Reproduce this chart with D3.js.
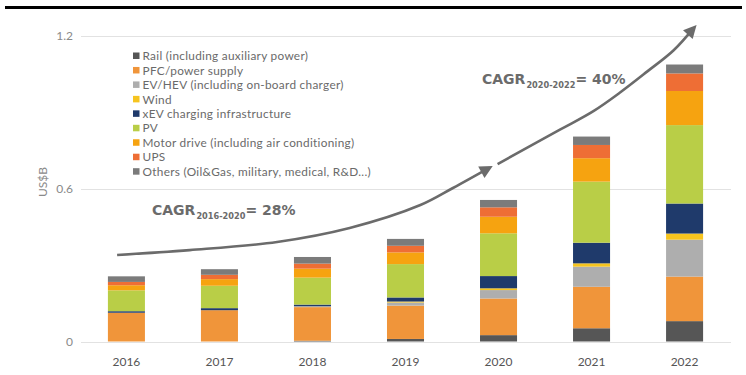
<!DOCTYPE html>
<html>
<head>
<meta charset="utf-8">
<script src="https://cdn.jsdelivr.net/npm/d3@7/dist/d3.min.js"></script>
<style>
  html, body { margin: 0; padding: 0; background: #fff; }
  svg { display: block; }
</style>
</head>
<body>
<svg id="chart" width="746" height="375"></svg>
<script>
// Power-module market by application, US$B
const years = ["2016", "2017", "2018", "2019", "2020", "2021", "2022"];
const seriesNames = [
  "Rail (including auxiliary power)",
  "PFC/power supply",
  "EV/HEV (including on-board charger)",
  "Wind",
  "xEV charging infrastructure",
  "PV",
  "Motor drive (including air conditioning)",
  "UPS",
  "Others (Oil&Gas, military, medical, R&D...)"
];
const rail     = [0.000, 0.000, 0.003, 0.010, 0.025, 0.052, 0.080];
const pfc      = [0.113, 0.123, 0.132, 0.131, 0.144, 0.163, 0.175];
const evhev    = [0.000, 0.000, 0.004, 0.012, 0.033, 0.079, 0.145];
const wind     = [0.000, 0.000, 0.000, 0.004, 0.007, 0.013, 0.024];
const xevCharg = [0.006, 0.008, 0.006, 0.016, 0.048, 0.081, 0.118];
const pv       = [0.082, 0.088, 0.106, 0.131, 0.168, 0.240, 0.308];
const motor    = [0.020, 0.026, 0.035, 0.046, 0.065, 0.092, 0.134];
const ups      = [0.013, 0.017, 0.020, 0.026, 0.037, 0.052, 0.069];
const others   = [0.022, 0.022, 0.026, 0.027, 0.029, 0.033, 0.035];
const yTicks = [0, 0.6, 1.2];
const yTickLabels = ["0", "0.6", "1.2"];

// Growth annotations: [band position, value] along each arrow
const cagrEarly = { label: "CAGR", sub: "2016-2020", rate: "= 28%" };
const cagrLate  = { label: "CAGR", sub: "2020-2022", rate: "= 40%" };
const arrowLower = [[-0.10, 0.340], [0.68, 0.359], [1.62, 0.391], [2.40, 0.446],
                    [3.16, 0.536], [3.51, 0.603], [3.90, 0.682]];
const arrowUpper = [[3.99, 0.697], [4.66, 0.832], [5.02, 0.905], [5.31, 0.979],
                    [5.60, 1.061], [5.88, 1.143], [6.10, 1.232]];

const colors = ["#565656", "#F0953A", "#AEAEAE", "#F6C41F", "#1F3A6B",
                "#B9CE47", "#F6A310", "#EE6E35", "#7B7B7B"];
const columns = [rail, pfc, evhev, wind, xevCharg, pv, motor, ups, others];

const table = years.map((y, i) => {
  const row = { year: y };
  seriesNames.forEach((s, k) => { row[s] = columns[k][i]; });
  return row;
});

const svg = d3.select("#chart");

const x = d3.scaleBand().domain(years).range([80, 731])
  .paddingInner(0.602).paddingOuter(0.3);
const y = d3.scaleLinear().domain([0, 1.2]).range([341.5, 36]);

// top rule
svg.append("rect").attr("x", 5).attr("y", 6).attr("width", 737).attr("height", 3)
  .attr("fill", "#000");

// gridlines
svg.append("g").selectAll("line").data(yTicks).join("line")
  .attr("x1", 81).attr("x2", 731)
  .attr("y1", d => Math.round(y(d)) + 0.5).attr("y2", d => Math.round(y(d)) + 0.5)
  .attr("stroke", "#e2e2e2").attr("stroke-width", 1);

// y tick labels
svg.append("g").selectAll("text").data(yTicks).join("text")
  .attr("x", 73).attr("y", d => y(d)).attr("dy", "0.35em")
  .attr("text-anchor", "end")
  .attr("font-family", "Lato, 'Open Sans', sans-serif").attr("font-size", 12)
  .attr("fill", "#8a8a8a")
  .text((d, i) => yTickLabels[i]);

svg.append("text")
  .attr("transform", "translate(47,182) rotate(-90)")
  .attr("text-anchor", "middle")
  .attr("font-family", "Lato, 'Open Sans', sans-serif").attr("font-size", 12)
  .attr("fill", "#8a8a8a")
  .text("US$B");

// x axis labels
svg.append("g").selectAll("text").data(years).join("text")
  .attr("x", d => x(d) + x.bandwidth() / 2).attr("y", 362)
  .attr("dy", "0.35em").attr("text-anchor", "middle")
  .attr("font-family", "Lato, 'Open Sans', sans-serif").attr("font-size", 12)
  .attr("fill", "#555")
  .text(d => d);

// stacked bars
const stacked = d3.stack().keys(seriesNames)(table);
svg.append("g").selectAll("g").data(stacked).join("g")
  .attr("fill", (d, i) => colors[i])
  .selectAll("rect").data(d => d).join("rect")
  .attr("x", d => x(d.data.year))
  .attr("width", x.bandwidth())
  .attr("y", d => y(d[1]))
  .attr("height", d => Math.max(0, y(d[0]) - y(d[1])));

// legend
const legend = svg.append("g").attr("transform", "translate(133,56)");
const rowH = 14.46;
seriesNames.forEach((s, i) => {
  legend.append("rect").attr("x", 0).attr("y", i * rowH - 3.5)
    .attr("width", 6.5).attr("height", 6.5).attr("fill", colors[i]);
  legend.append("text").attr("x", 9.5).attr("y", i * rowH).attr("dy", "0.35em")
    .attr("font-family", "Lato, 'Open Sans', sans-serif").attr("font-size", 11.8)
    .attr("letter-spacing", 0.3)
    .attr("fill", "#6a6a6a").text(s);
});

// growth arrows
const px = d => x(years[0]) + x.bandwidth() / 2 + d[0] * x.step();
const line = d3.line().x(px).y(d => y(d[1])).curve(d3.curveCatmullRom);

function arrow(points) {
  svg.append("path").attr("d", line(points))
    .attr("fill", "none").attr("stroke", "#6b6b6b").attr("stroke-width", 2.6);
  const a = points[points.length - 2], b = points[points.length - 1];
  const bx = px(b), by = y(b[1]);
  const ang = Math.atan2(by - y(a[1]), bx - px(a));
  const len = 13, half = 6.5;
  const tip = [bx + Math.cos(ang) * 4, by + Math.sin(ang) * 4];
  const base = [tip[0] - Math.cos(ang) * len, tip[1] - Math.sin(ang) * len];
  const p1 = [base[0] + Math.sin(ang) * half, base[1] - Math.cos(ang) * half];
  const p2 = [base[0] - Math.sin(ang) * half, base[1] + Math.cos(ang) * half];
  svg.append("path").attr("d", `M${tip}L${p1}L${p2}Z`).attr("fill", "#6b6b6b");
}
arrow(arrowLower);
arrow(arrowUpper);

// CAGR labels
function cagr(c, xPos, yPos) {
  const t = svg.append("text").attr("x", xPos).attr("y", yPos)
    .attr("font-family", "'DejaVu Sans', Verdana, sans-serif").attr("font-weight", "bold")
    .attr("fill", "#6b6b6b").attr("font-size", 14);
  t.append("tspan").text(c.label);
  t.append("tspan").attr("font-size", 8.2).attr("dy", 4.5).attr("dx", 1).text(c.sub);
  t.append("tspan").attr("dy", -4.5).text(c.rate);
}
cagr(cagrEarly, 152, 214.5);
cagr(cagrLate, 482, 83.5);
</script>
</body>
</html>
